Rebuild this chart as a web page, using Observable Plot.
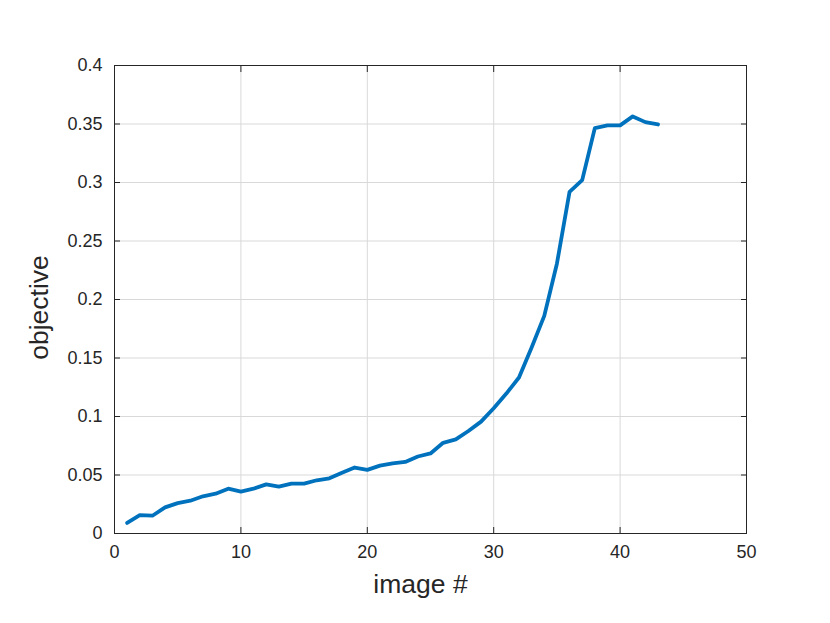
<!DOCTYPE html>
<html>
<head>
<meta charset="utf-8">
<script src="https://cdn.jsdelivr.net/npm/d3@7"></script>
<script src="https://cdn.jsdelivr.net/npm/@observablehq/plot@0.6"></script>
<style>
  html, body { margin: 0; padding: 0; background: #fff; }
  svg { display: block; }
</style>
</head>
<body>
<div id="chart"></div>
<script>
const imageIndex = [1,2,3,4,5,6,7,8,9,10,11,12,13,14,15,16,17,18,19,20,21,22,23,24,25,26,27,28,29,30,31,32,33,34,35,36,37,38,39,40,41,42,43];
const objective = [0.009,0.0157,0.0152,0.0223,0.026,0.028,0.0318,0.034,0.0383,0.0358,0.0383,0.042,0.040,0.0426,0.0426,0.0455,0.0472,0.052,0.0564,0.0544,0.058,0.060,0.0612,0.0658,0.0684,0.0775,0.0804,0.0876,0.0956,0.107,0.1196,0.1333,0.159,0.186,0.2306,0.292,0.302,0.3465,0.3488,0.3488,0.3565,0.3516,0.3496];
const xTicks = [0,10,20,30,40,50];
const yTicks = [0,0.05,0.1,0.15,0.2,0.25,0.3,0.35,0.4];
const xLabel = "image #";
const yLabel = "objective";

const data = imageIndex.map((x, i) => ({x, y: objective[i]}));
const font = "'Liberation Sans', Arial, Helvetica, sans-serif";
const ink = "#262626";
const fmtY = d => String(+d.toFixed(2));
const blank = () => "";

const chart = Plot.plot({
  width: 830,
  height: 623,
  marginLeft: 114,
  marginRight: 84,
  marginTop: 65,
  marginBottom: 90,
  style: {fontFamily: font, fontSize: "18px", color: ink, background: "#fff"},
  x: {domain: [0, 50]},
  y: {domain: [0, 0.4]},
  marks: [
    Plot.gridX(xTicks, {stroke: "#d9d9d9", strokeOpacity: 1, strokeWidth: 1}),
    Plot.gridY(yTicks, {stroke: "#d9d9d9", strokeOpacity: 1, strokeWidth: 1}),
    // inward ticks on all four sides
    Plot.axisX(xTicks, {anchor: "bottom", tickSize: -6, tickFormat: blank, label: null, stroke: ink}),
    Plot.axisX(xTicks, {anchor: "top", tickSize: -6, tickFormat: blank, label: null, stroke: ink}),
    Plot.axisY(yTicks, {anchor: "left", tickSize: -6, tickFormat: blank, label: null, stroke: ink}),
    Plot.axisY(yTicks, {anchor: "right", tickSize: -6, tickFormat: blank, label: null, stroke: ink}),
    // tick labels
    Plot.axisX(xTicks, {anchor: "bottom", tickSize: 0, tickPadding: 12, label: null, fontSize: 18, fill: ink}),
    Plot.axisY(yTicks, {anchor: "left", tickSize: 0, tickPadding: 12, tickFormat: fmtY, label: null, fontSize: 18, fill: ink}),
    Plot.frame({stroke: ink, strokeWidth: 1}),
    Plot.line(data, {x: "x", y: "y", stroke: "#0072BD", strokeWidth: 3.8, strokeLinejoin: "round"}),
    Plot.text([xLabel], {frameAnchor: "bottom", dy: 51, dx: -10, text: d => d, fontSize: 26.5, fill: ink, textAnchor: "middle", lineAnchor: "middle"}),
    Plot.text([yLabel], {frameAnchor: "left", dx: -75, dy: 8, rotate: -90, text: d => d, fontSize: 26.5, fill: ink, textAnchor: "middle", lineAnchor: "middle"})
  ]
});
document.getElementById("chart").appendChild(chart);
</script>
</body>
</html>
